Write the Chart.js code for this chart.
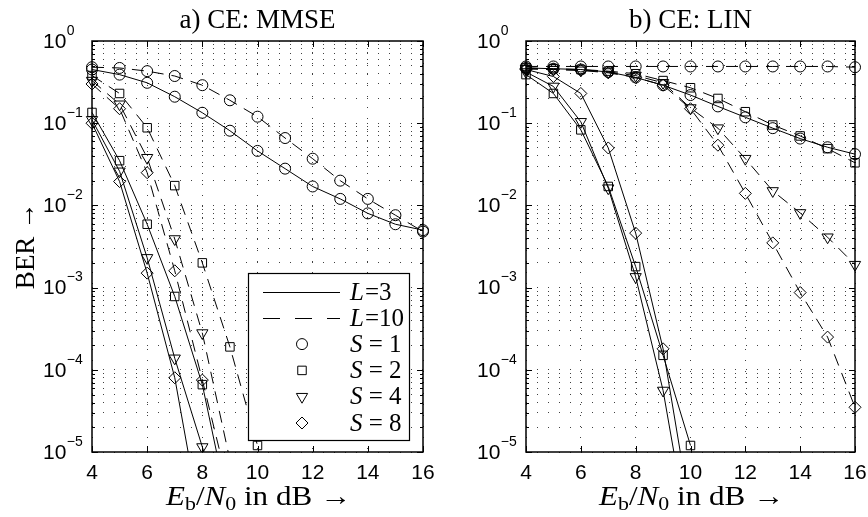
<!DOCTYPE html>
<html><head><meta charset="utf-8">
<script src="https://cdn.jsdelivr.net/npm/chart.js@4.4.1/dist/chart.umd.min.js"></script>
<style>
html,body{margin:0;padding:0;background:#fff;}
#wrap{position:relative;width:868px;height:517px;background:#fff;}
canvas{position:absolute;top:0;}
</style>
</head><body>
<div id="wrap">
<canvas id="c1" width="434" height="517" style="left:0"></canvas>
<canvas id="c2" width="434" height="517" style="left:434px"></canvas>
</div>
<script>
// ---- data ----
const ebn0 = [4,5,6,7,8,9,10,11,12,13,14,15,16];
const xTickValues = [4,6,8,10,12,14,16];
const yDecadeExps = [0,-1,-2,-3,-4,-5];
const yMinorMultipliers = [2,3,4,5,6,7,8,9];
const titles = ['a) CE: MMSE', 'b) CE: LIN'];
const legendL = [3, 10];
const legendS = [1, 2, 4, 8];

// a) CE: MMSE
const mmseS1L3  = [0.45,0.39,0.31,0.21,0.134,0.081,0.046,0.028,0.017,0.012,0.0080,0.0059,0.0050];
const mmseS2L3  = [0.135,0.035,0.0059,7.8e-4,6.6e-5,1.7e-6];
const mmseS4L3  = [0.11,0.026,0.0023,1.38e-4,1.15e-5,1.0e-6];
const mmseS8L3  = [0.10,0.0195,0.0015,8.0e-5,1.1e-6];
const mmseS1L10 = [0.48,0.47,0.43,0.375,0.29,0.19,0.12,0.066,0.037,0.020,0.012,0.0076,0.0048];
const mmseS2L10 = [0.38,0.23,0.088,0.0174,0.0020,1.9e-4,1.2e-5];
const mmseS4L10 = [0.33,0.17,0.038,0.0039,2.8e-4,8.0e-6];
const mmseS8L10 = [0.30,0.15,0.025,0.0016,7.5e-5,3.2e-6];

// b) CE: LIN
const linS1L3  = [0.47,0.46,0.45,0.42,0.36,0.29,0.22,0.16,0.118,0.087,0.065,0.051,0.042];
const linS2L3  = [0.39,0.23,0.083,0.017,0.0018,1.5e-4,1.2e-5];
const linS4L3  = [0.42,0.28,0.104,0.0162,1.35e-3,5.6e-5,7.0e-7];
const linS8L3  = [0.45,0.37,0.23,0.050,0.0046,1.8e-4,1.8e-6];
const linS1L10 = [0.49,0.49,0.49,0.49,0.49,0.49,0.49,0.49,0.49,0.49,0.49,0.49,0.48];
const linS2L10 = [0.47,0.46,0.45,0.43,0.40,0.33,0.27,0.20,0.138,0.095,0.070,0.049,0.033];
const linS4L10 = [0.46,0.45,0.44,0.42,0.38,0.31,0.153,0.087,0.037,0.015,0.0081,0.0041,0.0019];
const linS8L10 = [0.46,0.45,0.44,0.41,0.36,0.29,0.15,0.054,0.014,0.0035,8.7e-4,2.5e-4,3.5e-5];

// ---- marker styles ----
const M = {
  1:{style:'circle', r:5.5, rot:0},
  2:{style:'rect', r:6, rot:0},
  4:{style:'triangle', r:6.5, rot:180},
  8:{style:'rectRot', r:6, rot:0}
};
const DASH = [12,8];

function ds(values, S, dashed){
  const m=M[S];
  return {
    data: values.map((v,i)=>({x:ebn0[i], y:v})),
    borderColor:'#000', borderWidth:1, borderDash: dashed?DASH:[],
    pointStyle:m.style, pointRadius:m.r, pointHoverRadius:m.r, pointRotation:m.rot,
    pointBorderColor:'#000', pointBorderWidth:1,
    pointBackgroundColor:'rgba(0,0,0,0)', backgroundColor:'rgba(0,0,0,0)',
    tension:0, fill:false,
    clip:{left:10, right:10, top:10, bottom:0}
  };
}

const SERIF='"Liberation Serif","Times New Roman",serif';
const SANS='"Liberation Sans",Arial,sans-serif';

function drawRich(ctx, parts, x, y, targetW){
  let w=0;
  for(const p of parts){ctx.font=p.f; p.w=ctx.measureText(p.t).width; w+=p.w;}
  const sx = targetW ? targetW/w : 1;
  ctx.save(); ctx.translate(x,y); ctx.scale(sx,1);
  let cx=-w/2;
  ctx.textAlign='left'; ctx.textBaseline='alphabetic';
  for(const p of parts){ctx.font=p.f; ctx.fillText(p.t,cx,(p.dy||0)); cx+=p.w;}
  ctx.restore();
}

function drawMarker(ctx,S,x,y){
  const m=M[S];
  ctx.save(); ctx.strokeStyle='#000'; ctx.fillStyle='rgba(0,0,0,0)'; ctx.lineWidth=1; ctx.setLineDash([]);
  Chart.helpers.drawPoint(ctx,{pointStyle:m.style,rotation:m.rot,radius:m.r,borderWidth:1},x,y);
  ctx.restore();
}

const decor = {
  id:'decor',
  afterDraw(chart, args, opts){
    const {ctx, chartArea:a} = chart;
    const xs=chart.scales.x, ys=chart.scales.y;
    ctx.save();
    ctx.strokeStyle='#000'; ctx.fillStyle='#000'; ctx.lineWidth=1; ctx.setLineDash([]);
    ctx.beginPath();
    for(const t of ys.ticks){
      const lg=Math.log10(t.value); const major=Math.abs(lg-Math.round(lg))<1e-9;
      const py=Math.round(ys.getPixelForValue(t.value))+0.5; const len=major?6:3;
      ctx.moveTo(a.left,py); ctx.lineTo(a.left+len,py);
      ctx.moveTo(a.right,py); ctx.lineTo(a.right-len,py);
    }
    for(const v of xTickValues){
      const px=Math.round(xs.getPixelForValue(v))+0.5;
      ctx.moveTo(px,a.bottom); ctx.lineTo(px,a.bottom-6);
      ctx.moveTo(px,a.top); ctx.lineTo(px,a.top+6);
    }
    ctx.stroke();
    ctx.lineWidth=1.5;
    ctx.strokeRect(a.left,a.top,a.right-a.left,a.bottom-a.top);

    // y tick labels
    for(const e of yDecadeExps){
      const py=ys.getPixelForValue(Math.pow(10,e));
      const x0=a.left-49;
      ctx.font='21px '+SANS; ctx.textAlign='left'; ctx.textBaseline='middle';
      ctx.fillText('10',x0,py+1);
      const w=ctx.measureText('10').width;
      ctx.font='14px '+SANS;
      ctx.fillText(e===0?'0':'\u2212'+(-e), x0+w+0.5, py-10);
    }
    // x tick labels
    ctx.font='21px '+SANS; ctx.textAlign='center'; ctx.textBaseline='middle';
    for(const v of xTickValues){
      ctx.fillText(String(v), xs.getPixelForValue(v), 473);
    }
    // title
    ctx.font='27px '+SERIF; ctx.textAlign='center'; ctx.textBaseline='alphabetic';
    ctx.fillText(opts.title,(a.left+a.right)/2,28);
    // x title
    const big='27px '+SERIF, bigI='italic 27px '+SERIF, sub='19px '+SERIF;
    drawRich(ctx,[{t:'E',f:bigI},{t:'b',f:sub,dy:5},{t:'/',f:big},{t:'N',f:bigI},{t:'0',f:sub,dy:5},{t:' in dB \u2192',f:big}],(a.left+a.right)/2+1,505,185);
    // y title
    if(opts.ytitle){
      ctx.save(); ctx.translate(27,246); ctx.rotate(-Math.PI/2);
      ctx.font='27px '+SERIF; ctx.textAlign='center'; ctx.textBaseline='middle';
      ctx.fillText('BER \u2192',0,0); ctx.restore();
    }
    // legend
    if(opts.legend){
      const bx=248.5, by=273.5, bw=161, bh=167;
      ctx.fillStyle='#fff'; ctx.fillRect(bx,by,bw,bh);
      ctx.strokeStyle='#000'; ctx.lineWidth=1.2; ctx.strokeRect(bx,by,bw,bh);
      ctx.fillStyle='#000';
      const rowY=k=>291.5+k*26.3;
      ctx.lineWidth=1;
      legendL.forEach((L,k)=>{
        const yy=Math.round(rowY(k))+0.5;
        ctx.setLineDash(k===0?[]:[17,15]);
        ctx.beginPath(); ctx.moveTo(263,yy); ctx.lineTo(340,yy); ctx.stroke();
        ctx.setLineDash([]);
        ctx.textBaseline='middle'; ctx.textAlign='left';
        ctx.font='italic 25px '+SERIF; ctx.fillText('L',350,yy+1);
        let w=ctx.measureText('L').width;
        ctx.font='25px '+SERIF; ctx.fillText('='+L,350+w+1,yy+1);
      });
      legendS.forEach((S,k)=>{
        const yy=rowY(k+2);
        drawMarker(ctx,S,302,yy);
        ctx.fillStyle='#000';
        ctx.textBaseline='middle'; ctx.textAlign='left';
        ctx.font='italic 25px '+SERIF; ctx.fillText('S',350,yy+1);
        let w=ctx.measureText('S').width;
        ctx.font='25px '+SERIF; ctx.fillText(' = '+S,350+w,yy+1);
      });
    }
    ctx.restore();
  }
};

function makeChart(id, series, opts, padRight){
  const datasets=series.map(s=>ds(s[0],s[1],s[2]));
  return new Chart(document.getElementById(id),{
    type:'line',
    data:{datasets},
    options:{
      responsive:false, animation:false, devicePixelRatio:1,
      layout:{padding:{left:92,right:padRight,top:41,bottom:65}},
      plugins:{legend:{display:false}, tooltip:{enabled:false}, decor:opts},
      events:[],
      scales:{
        x:{type:'linear',min:4,max:16,
           afterBuildTicks:sc=>{sc.ticks=xTickValues.map(v=>({value:v}));},
           ticks:{display:false},
           grid:{color:'rgba(0,0,0,0.75)',lineWidth:1,drawTicks:false},
           border:{display:false,dash:[1,10]}},
        y:{type:'logarithmic',min:1e-5,max:1,
           afterBuildTicks:sc=>{
             const t=[];
             for(const e of yDecadeExps.slice().reverse()){
               t.push({value:Math.pow(10,e)});
               if(e<0) for(const m of yMinorMultipliers) t.push({value:m*Math.pow(10,e)});
             }
             sc.ticks=t;
           },
           ticks:{display:false},
           grid:{color:'rgba(0,0,0,0.75)',lineWidth:1,drawTicks:false},
           border:{display:false,dash:[1,10]}}
      }
    },
    plugins:[decor]
  });
}

makeChart('c1',[
  [mmseS1L3,1,false],[mmseS2L3,2,false],[mmseS4L3,4,false],[mmseS8L3,8,false],
  [mmseS1L10,1,true],[mmseS2L10,2,true],[mmseS4L10,4,true],[mmseS8L10,8,true]
],{title:titles[0],ytitle:true,legend:true},11);

makeChart('c2',[
  [linS1L3,1,false],[linS2L3,2,false],[linS4L3,4,false],[linS8L3,8,false],
  [linS1L10,1,true],[linS2L10,2,true],[linS4L10,4,true],[linS8L10,8,true]
],{title:titles[1],ytitle:false,legend:false},13);
</script>
</body></html>
